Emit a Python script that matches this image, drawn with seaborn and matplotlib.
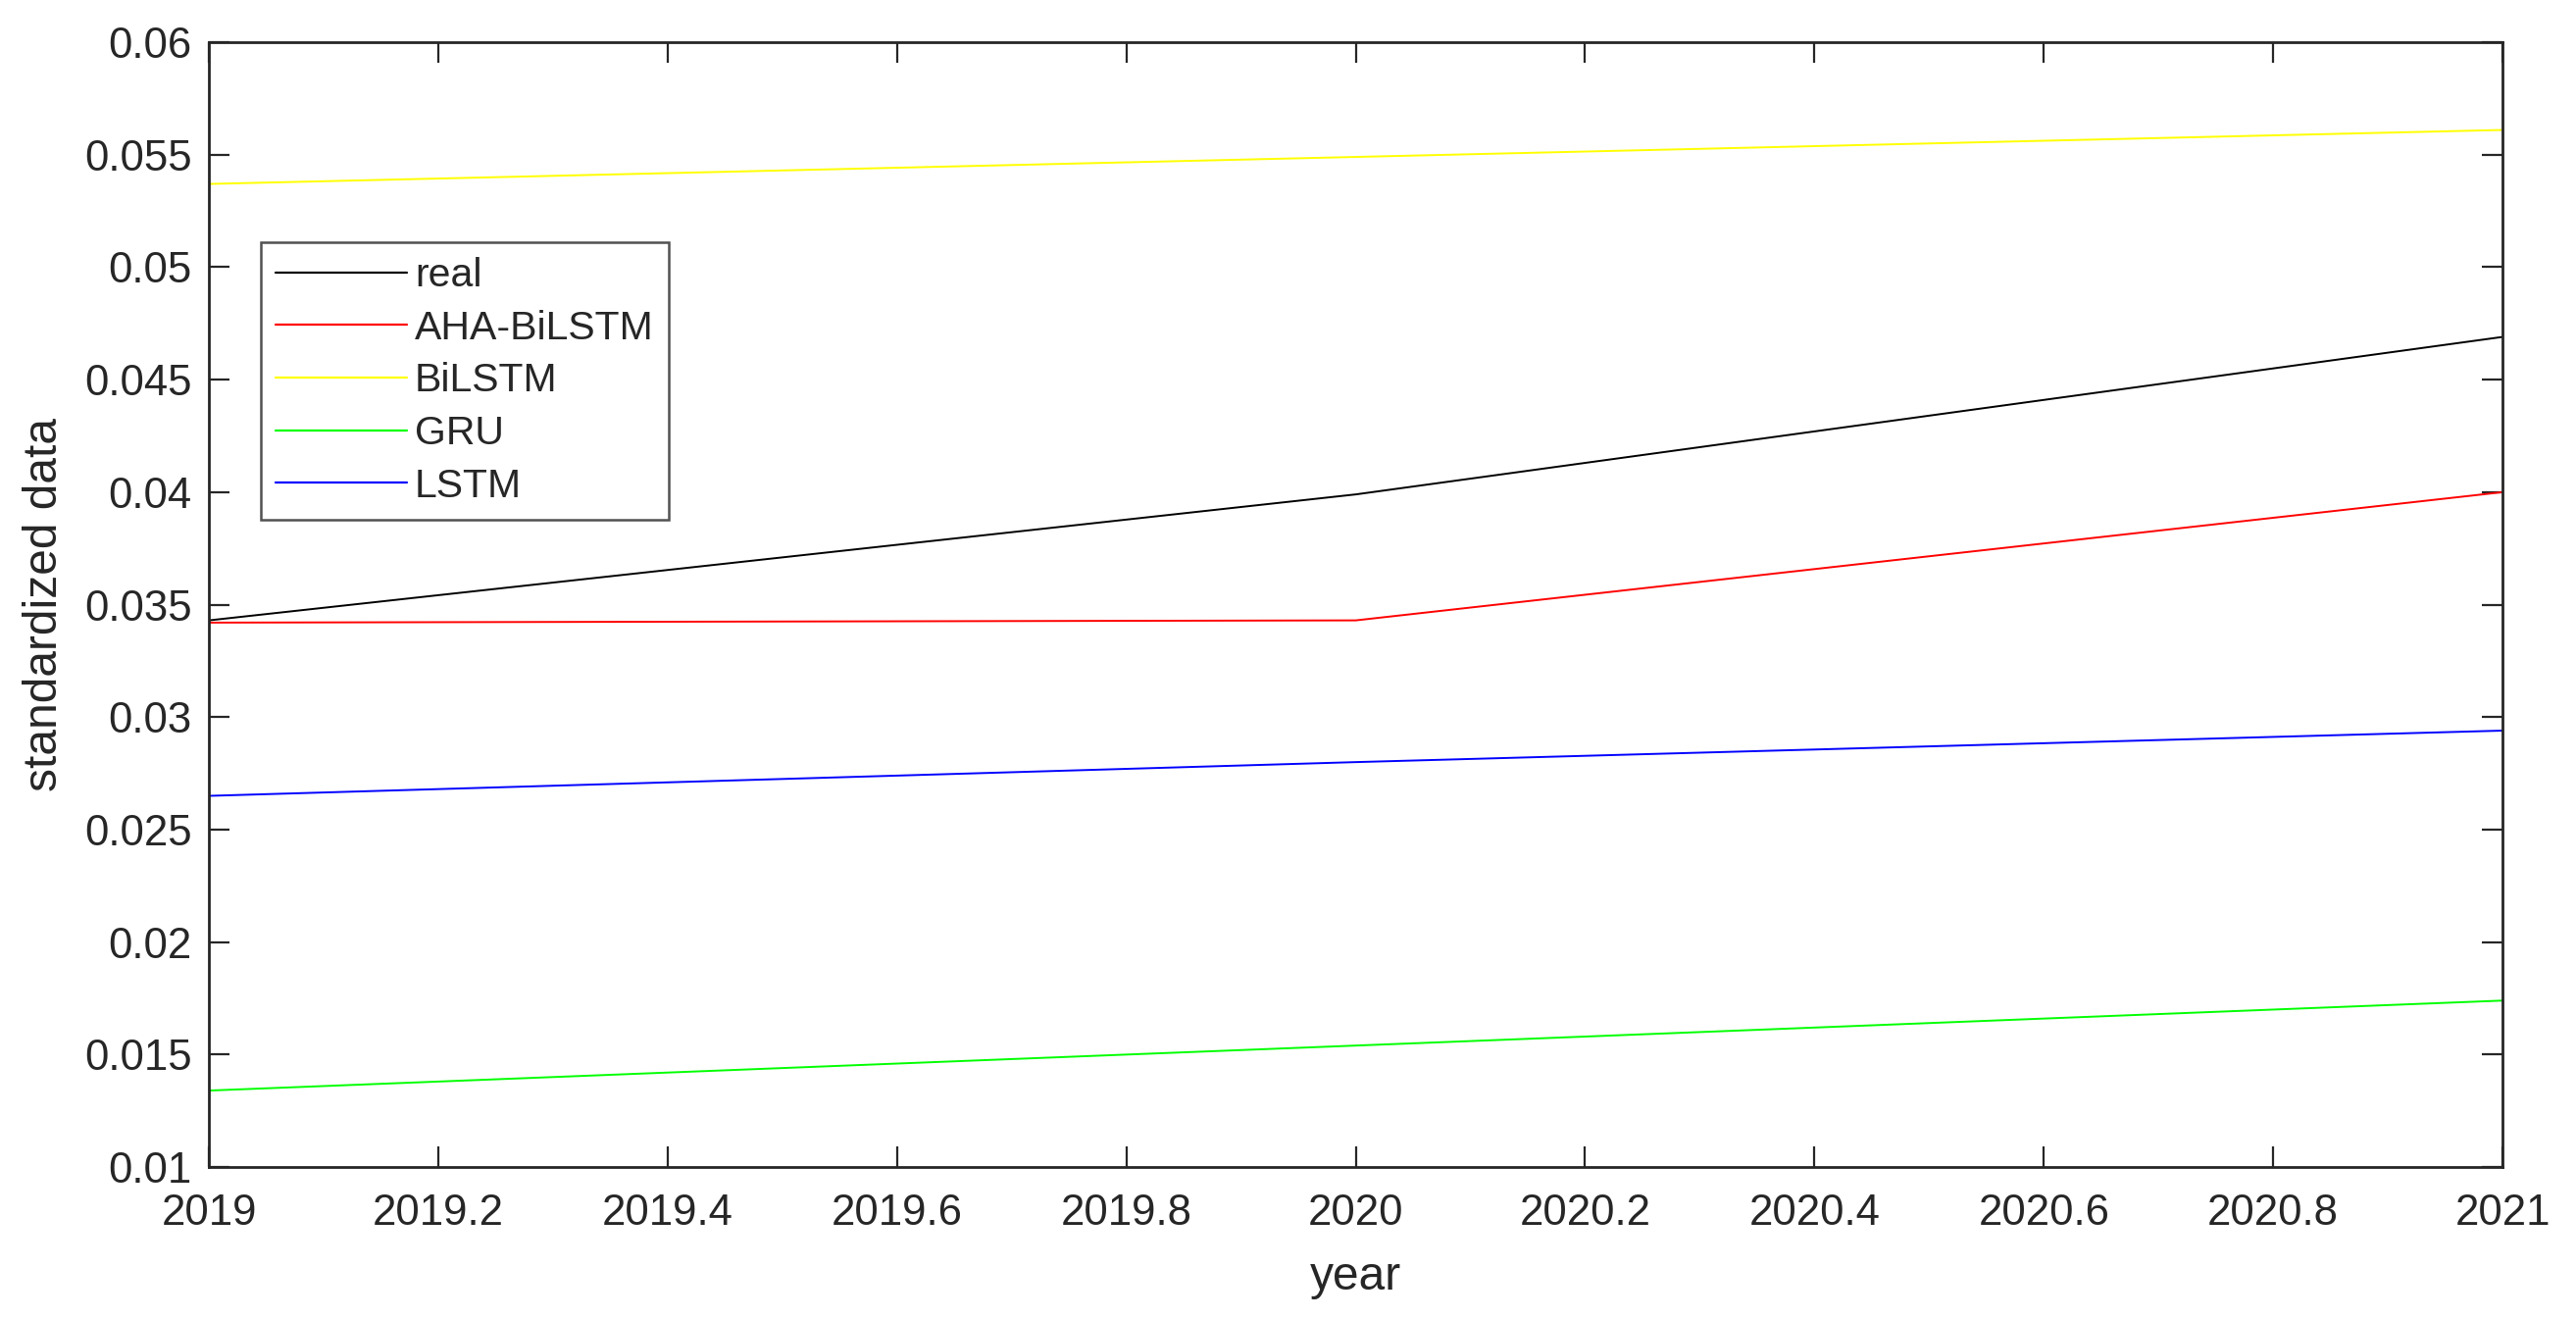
import numpy as np
import pandas as pd
import matplotlib
matplotlib.use("Agg")
import matplotlib.pyplot as plt
import seaborn as sns

years = [2019, 2020, 2021]
real = [0.0343, 0.0399, 0.0469]
aha_bilstm = [0.0342, 0.0343, 0.0400]
bilstm = [0.0537, 0.0549, 0.0561]
gru = [0.0134, 0.0154, 0.0174]
lstm = [0.0265, 0.0280, 0.0294]

series_names = ["real", "AHA-BiLSTM", "BiLSTM", "GRU", "LSTM"]
series_vals = [real, aha_bilstm, bilstm, gru, lstm]
colors = ["#000000", "#ff0000", "#ffff00", "#00ff00", "#0000ff"]

x_ticks = [2019, 2019.2, 2019.4, 2019.6, 2019.8, 2020, 2020.2, 2020.4, 2020.6, 2020.8, 2021]
x_labels = ["2019", "2019.2", "2019.4", "2019.6", "2019.8", "2020", "2020.2", "2020.4", "2020.6", "2020.8", "2021"]
y_ticks = [0.01, 0.015, 0.02, 0.025, 0.03, 0.035, 0.04, 0.045, 0.05, 0.055, 0.06]
y_labels = ["0.01", "0.015", "0.02", "0.025", "0.03", "0.035", "0.04", "0.045", "0.05", "0.055", "0.06"]

rows = []
for name, vals in zip(series_names, series_vals):
    for yr, v in zip(years, vals):
        rows.append({"year": yr, "value": v, "model": name})
df = pd.DataFrame(rows)

sns.set_theme(style="white")
plt.rcParams["font.family"] = ["Liberation Sans", "DejaVu Sans"]
txt = "#262626"

fig = plt.figure(figsize=(26.27, 13.45), dpi=100)
ax = fig.add_axes([0.0811, 0.1152, 0.8904, 0.8528])

sns.lineplot(data=df, x="year", y="value", hue="model", hue_order=series_names,
             palette=dict(zip(series_names, colors)), linewidth=1.4, ax=ax)

ax.set_xlim(2019, 2021)
ax.set_ylim(0.01, 0.06)
ax.set_xticks(x_ticks)
ax.set_xticklabels(x_labels)
ax.set_yticks(y_ticks)
ax.set_yticklabels(y_labels)
ax.tick_params(axis="both", direction="in", length=15, width=1.6, color=txt,
               labelsize=31.5, labelcolor=txt, top=True, right=True, bottom=True, left=True)
ax.tick_params(axis="y", pad=12.5)
ax.tick_params(axis="x", pad=19.5)
for s in ax.spines.values():
    s.set_visible(True)
    s.set_color(txt)
    s.set_linewidth(2)

ax.set_xlabel("year", fontsize=34.5, color=txt, labelpad=16)
ax.set_ylabel("standardized data", fontsize=34.5, color=txt, labelpad=13)

handles, labels = ax.get_legend_handles_labels()
leg = ax.legend(handles, labels, loc="upper left", bbox_to_anchor=(0.0227, 0.8221),
                borderaxespad=0, fontsize=29.5, frameon=True, fancybox=False,
                handlelength=3.27, handletextpad=0.19, labelspacing=0.38,
                borderpad=0.37, labelcolor=txt)
leg.get_frame().set_edgecolor(txt)
leg.get_frame().set_linewidth(1.8)
for line in leg.get_lines():
    line.set_linewidth(1.6)

fig.savefig("out.png", dpi=100, facecolor="white")
